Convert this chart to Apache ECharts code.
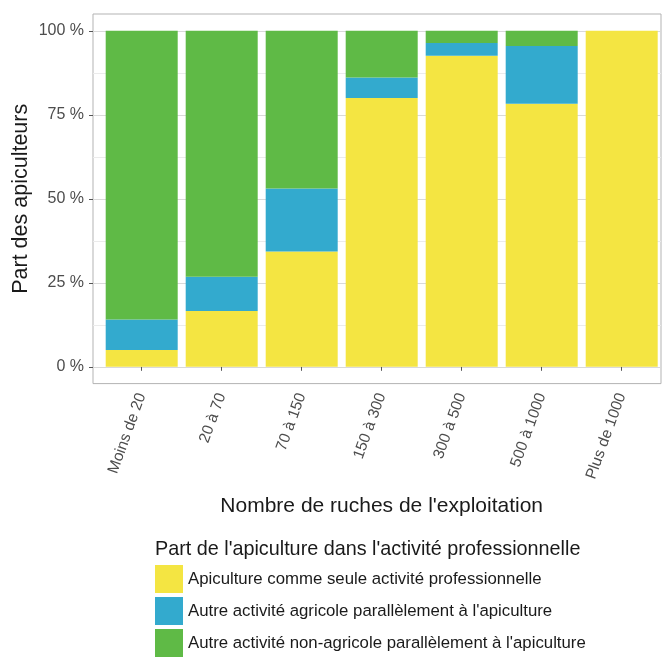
<!DOCTYPE html>
<html>
<head>
<meta charset="utf-8">
<script src="https://cdn.jsdelivr.net/npm/echarts@6/dist/echarts.min.js"></script>
<style>
html,body{margin:0;padding:0;background:#fff;}
#c{width:662px;height:657px;}
</style>
</head>
<body>
<div id="c"></div>
<script>
const categories = ["Moins de 20", "20 à 70", "70 à 150", "150 à 300", "300 à 500", "500 à 1000", "Plus de 1000"];
const seriesNames = [
  "Apiculture comme seule activité professionnelle",
  "Autre activité agricole parallèlement à l'apiculture",
  "Autre activité non-agricole parallèlement à l'apiculture"
];
const seule = [5.0, 16.6, 34.3, 80.0, 92.6, 78.3, 100];
const agricole = [9.1, 10.2, 18.8, 6.1, 3.8, 17.2, 0];
const nonAgricole = [85.9, 73.2, 46.9, 13.9, 3.6, 4.5, 0];
const yTicks = [0, 25, 50, 75, 100];
const yMinor = [12.5, 37.5, 62.5, 87.5];
const colors = ["#F4E542", "#33AACE", "#5FBA46"];

const chart = echarts.init(document.getElementById('c'), null, {renderer: 'canvas'});
const font = "Liberation Sans, Arial, sans-serif";
const ink = '#1a1a1a';

const option = {
  animation: false,
  backgroundColor: '#ffffff',
  textStyle: {fontFamily: font},
  grid: [
    { // panel
      left: 93, top: 14, width: 568, height: 369.6,
      show: true, borderColor: '#B3B3B3', borderWidth: 1, backgroundColor: 'transparent'
    },
    { // bars
      left: 101.7, top: 14, width: 560, height: 369.6, show: false
    }
  ],
  title: {
    text: "Part de l'apiculture dans l'activité professionnelle",
    left: 155, top: 539.5, padding: 0,
    textStyle: {fontFamily: font, fontSize: 19.8, fontWeight: 'normal', color: ink}
  },
  legend: {
    orient: 'vertical',
    left: 155, top: 565, height: 100, padding: 0,
    itemWidth: 28, itemHeight: 28, itemGap: 4,
    icon: 'rect',
    textStyle: {fontFamily: font, fontSize: 16.8, color: ink},
    data: seriesNames
  },
  xAxis: [
    {type: 'value', gridIndex: 0, min: 0, max: 1, show: false},
    {
      type: 'category', gridIndex: 1,
      data: categories,
      name: "Nombre de ruches de l'exploitation",
      nameLocation: 'middle',
      nameGap: 112,
      nameTextStyle: {fontFamily: font, fontSize: 21, color: ink},
      axisLine: {show: false},
      axisTick: {show: true, length: 4, alignWithLabel: true, lineStyle: {color: '#555555'}},
      axisLabel: {
        interval: 0, rotate: 70, margin: 10,
        fontFamily: font, fontSize: 15.5, color: '#4D4D4D'
      },
      splitLine: {show: false}
    }
  ],
  yAxis: [{
    type: 'value', gridIndex: 0,
    min: -5, max: 105,
    name: 'Part des apiculteurs',
    nameLocation: 'middle',
    nameGap: 61,
    nameMoveOverlap: false,
    nameTextStyle: {fontFamily: font, fontSize: 21.5, color: ink},
    axisLine: {show: false},
    axisTick: {show: true, length: 4, customValues: yTicks, lineStyle: {color: '#555555'}},
    axisLabel: {
      customValues: yTicks, margin: 9,
      fontFamily: font, fontSize: 16, color: '#4D4D4D',
      formatter: v => v + ' %'
    },
    splitLine: {show: true, lineStyle: {color: '#D9D9D9', width: 1}}
  }, {
    type: 'value', gridIndex: 0,
    min: -5, max: 105,
    position: 'left',
    axisLine: {show: false},
    axisTick: {show: false, customValues: yMinor},
    axisLabel: {show: false, customValues: yMinor},
    splitLine: {show: true, lineStyle: {color: '#EBEBEB', width: 1}}
  }, {
    type: 'value', gridIndex: 1,
    min: -5, max: 105,
    show: false,
    splitLine: {show: false}
  }],
  series: [
    {name: seriesNames[0], type: 'bar', stack: 'all', xAxisIndex: 1, yAxisIndex: 2, data: seule, barWidth: 72, itemStyle: {color: colors[0]}},
    {name: seriesNames[1], type: 'bar', stack: 'all', xAxisIndex: 1, yAxisIndex: 2, data: agricole, barWidth: 72, itemStyle: {color: colors[1]}},
    {name: seriesNames[2], type: 'bar', stack: 'all', xAxisIndex: 1, yAxisIndex: 2, data: nonAgricole, barWidth: 72, itemStyle: {color: colors[2]}}
  ]
};
chart.setOption(option);
</script>
</body>
</html>
